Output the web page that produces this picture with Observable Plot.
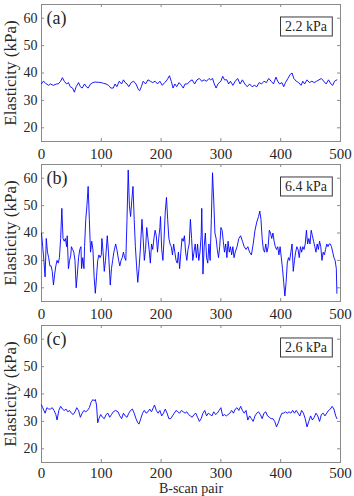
<!DOCTYPE html>
<html><head><meta charset="utf-8">
<script src="https://cdn.jsdelivr.net/npm/d3@7"></script>
<script src="https://cdn.jsdelivr.net/npm/@observablehq/plot@0.6"></script>
<style>
html,body{margin:0;padding:0;background:#fff;}
#chart{width:354px;height:496px;overflow:hidden;}
#chart svg{display:block;}
</style></head><body><div id="chart"></div>
<script>
const xTicks = [0, 100, 200, 300, 400, 500];
const yTicks = [20, 30, 40, 50, 60];
const panelLabels = ["(a)", "(b)", "(c)"];
const stdLabels = ["2.2 kPa", "6.4 kPa", "2.6 kPa"];
const xAxisLabel = "B-scan pair";
const yAxisLabel = "Elasticity (kPa)";

// Panel (a)
const xA = [0,3,6,8,12,15,20,25,28,32,35,38,42,45,48,52,55,58,62,65,68,72,75,78,82,86,90,95,100,104,108,112,116,120,123,126,130,134,137,140,143,146,150,154,158,162,164,167,170,174,178,182,186,190,194,198,202,206,210,214,217,220,223,226,230,234,237,240,244,248,252,256,260,264,268,272,276,280,283,286,289,292,295,300,303,306,310,313,316,320,324,328,332,336,340,344,348,352,356,360,364,368,372,376,380,384,388,392,395,398,402,405,408,412,416,419,422,426,430,434,437,440,444,448,452,456,460,464,468,472,476,480,484,487,490,494];
const yA = [36.1,37,36.5,36,35.5,36,35.5,36,36,37,38.3,37,36,36.5,35,34.5,33,35,36.5,35,34.5,36,35,34.5,36,36.5,36.7,36.6,36.5,36.2,36,35.5,34.5,34.5,36,35,37,36,37.5,36.5,36,35,36.5,37,36,34,33.5,35,37,36,37.5,37,36.5,37,36,37,35.5,36.5,37.5,39,37,34.5,36,35,36.5,35.5,34.5,36,36,37,37.5,36,37.5,38,37,37.5,37,38,37.5,38,36,34.5,36,37,38.8,37.5,37.5,36,37,35.5,37,38,36,37.5,36,35,36,35,35.5,35,36.5,36,37,36.5,38,37,36,38.5,37,36,36.5,35,36.5,38,39.5,40,38,37,36.5,35.5,37,36,37.5,36.5,37,36.5,37,37.5,38,37,36,37.5,36,35.5,37,37.5];

// Panel (b)
const xB = [0,2,4,6,8,10,12,14,16,18,20,22,24,26,28,30,32,34,36,38,40,42,43,45,47,49,50,52,54,56,58,60,62,64,66,67,69,71,72,74,76,78,80,82,84,86,88,90,92,94,96,98,100,101,103,105,107,109,110,112,114,115,117,119,121,124,126,129,131,133,135,137,139,141,143,145,147,149,151,153,155,157,159,161,163,165,168,170,172,174,176,178,180,182,184,186,188,190,192,194,196,198,199,201,203,205,207,209,211,213,215,217,219,221,223,225,227,229,231,233,235,237,239,241,243,245,247,249,251,253,255,257,259,261,263,265,267,268,270,272,274,276,278,280,282,284,286,288,290,292,294,296,298,300,302,304,306,308,310,312,314,316,318,320,322,324,327,330,333,336,339,342,345,348,351,354,357,360,363,365,367,369,371,373,375,377,379,381,383,385,387,389,391,393,395,397,399,401,403,405,407,409,411,413,415,417,419,421,423,425,427,429,431,433,435,437,439,441,443,445,447,449,451,453,455,457,459,461,463,465,467,469,471,473,475,477,479,481,483,485,487,489,491,493,494];
const yB = [40,35,30,24,38,33,31,28,28,26,21,25,28,30,29,31,38,49,38,37,38,35,39,27,30,32,35,34,33,30,20,25,31,34,35,27,31,27,35,45,50,57,45,33,37,34,24,18,24,30,32,31,32,38,33,26,30,36,39,33,25,21,27,30,33,36,34,30,28,30,31,33,31,30,45,63,50,46,52,57,45,35,28,22,27,33,45,38,30,34,42,38,34,29,36,34,38,41,39,33,38,42,46,34,30,38,48,53,45,38,36,35,32,36,33,30,29,33,27,33,38,37,39,33,30,34,36,45,38,30,33,36,31,36,30,33,39,49,25,35,40,31,29,36,30,45,62,52,40,38,34,31,35,42,41,37,33,36,31,37,33,35,32,35,31,33,35,38,39,37,35,34,35,33,32,36,41,44,46,48,45,38,34,33,36,33,35,41,40,38,40,37,35,34,35,32,35,31,27,22,17,22,29,31,30,33,36,26,30,33,35,34,31,35,33,35,34,36,41,36,38,36,41,39,37,35,33,36,34,37,35,30,33,32,34,36,35,36,36,35,33,31,30,27,18];

// Panel (c)
const xC = [0,2,4,6,9,12,15,18,21,24,26,29,32,35,38,41,44,47,50,53,56,59,62,65,68,71,74,77,80,83,86,88,90,92,94,96,99,102,105,108,111,114,117,120,124,128,131,134,137,140,143,146,149,152,155,158,161,163,166,169,172,175,178,181,184,187,189,192,195,198,201,204,207,210,213,216,219,222,225,228,231,234,237,240,243,246,249,252,255,258,261,264,267,270,273,276,279,282,285,288,291,294,297,300,303,306,309,312,315,318,321,324,327,330,333,336,339,342,345,348,351,354,357,360,363,366,369,372,375,378,381,384,387,390,393,396,399,402,405,408,411,414,417,420,423,426,429,432,435,438,441,444,447,450,453,456,459,462,465,468,471,474,477,480,483,486,489,492,494];
const yC = [36,35,34,33,35,34.5,34.5,35,34,32.5,30.5,34,35.5,34.5,34,34.5,33.5,34,33,32.5,33.5,35,34,31.5,33,34,33.5,34,35,37,38,37.5,38,36,29.5,31,32.5,31.5,31,32.5,33,31.5,32.5,33.5,34,33.5,32,31,33,32,31.5,33,34,34.5,33,31,29.5,29,31,33,34,33,33.5,34.5,33.5,35,36,34,33,34,32,33,34.5,33,31,31,32,33,34,33.5,33,34,33.5,33,33.5,32.5,32,31.5,32.5,33,31.5,30,31,33,34,32,33,32.5,32,33.5,32.5,33,34,35,32,32.5,32,32.5,33,34,33,34.5,35,34,35.5,34,33,34,30.5,32,31,30,32,33,33.5,32.5,31,33,33.5,32,31.5,31,31,30,28,29.5,31.5,33,33,33.5,33,33.5,33,34,33,34,33,32,34,33,31,28,30,32,30.5,31.5,33,32,30,32.5,33,32,33,34,34.5,35.5,34.5,32,31];

const series = [[xA, yA], [xB, yB], [xC, yC]];
const layout = [
  {height: 162, marginTop: 4, marginBottom: 21, tickPadding: 6.5},
  {height: 162, marginTop: 2, marginBottom: 23, tickPadding: 6.5},
  {height: 172, marginTop: 1, marginBottom: 34, tickPadding: 4.5}
];
const frameColor = "#8a8a8a";
const fontFamily = "'Liberation Serif', 'Times New Roman', serif";

const chart = document.getElementById("chart");

series.forEach(([xs, ys], i) => {
  const data = xs.map((x, j) => ({x, y: ys[j]}));
  const lay = layout[i];
  const marks = [
    Plot.frame({stroke: frameColor}),
    Plot.ruleX(xTicks, {x: d => d, y1: 15, y2: 16.1, stroke: frameColor}),
    Plot.ruleX(xTicks, {x: d => d, y1: 65, y2: 63.9, stroke: frameColor}),
    Plot.ruleY(yTicks, {y: d => d, x1: 0, x2: 5, stroke: frameColor}),
    Plot.ruleY(yTicks, {y: d => d, x1: 500, x2: 495, stroke: frameColor}),
    Plot.axisX(xTicks, {tickSize: 0, tickPadding: lay.tickPadding, label: null, fontSize: 15}),
    Plot.axisY(yTicks, {tickSize: 0, tickPadding: 4, label: null, fontSize: 14}),
    Plot.line(data, {x: "x", y: "y", stroke: "#0000ff", strokeWidth: 0.9}),
    Plot.text([panelLabels[i]], {text: d => d, frameAnchor: "top-left", dx: 5, dy: 7, lineAnchor: "top", textAnchor: "start", fontSize: 18}),
    Plot.text([stdLabels[i]], {text: d => d, frameAnchor: "top-right", dx: -34.5, dy: 22, textAnchor: "middle", lineAnchor: "middle", fontSize: 14}),
    Plot.text([yAxisLabel], {text: d => d, frameAnchor: "left", dx: -31, rotate: -90, textAnchor: "middle", fontSize: 17})
  ];
  if (i === 2) {
    marks.push(Plot.text([xAxisLabel], {text: d => d, frameAnchor: "bottom", dy: 21, lineAnchor: "top", textAnchor: "middle", fontSize: 14}));
  }
  const svg = Plot.plot({
    width: 354,
    height: lay.height,
    marginLeft: 41,
    marginRight: 14,
    marginTop: lay.marginTop,
    marginBottom: lay.marginBottom,
    x: {domain: [0, 500]},
    y: {domain: [15, 65]},
    style: {fontFamily, color: "#262626", background: "white", overflow: "visible"},
    marks
  });
  chart.appendChild(svg);
  // draw the box around the std label (same transform as the text)
  d3.select(svg).selectAll("text")
    .filter(function() { return this.textContent === stdLabels[i]; })
    .each(function() {
      const b = this.getBBox();
      const w = b.width + 9, h = 19;
      const cx = b.x + b.width / 2, cy = b.y + b.height / 2;
      const tr = this.getAttribute("transform");
      const r = d3.select(this.parentNode).insert("rect", "text")
        .attr("x", cx - w / 2).attr("y", cy - h / 2)
        .attr("width", w).attr("height", h)
        .attr("fill", "white").attr("stroke", "#3a3a3a").attr("stroke-width", 1);
      if (tr) r.attr("transform", tr);
    });
});
</script>
</body></html>
